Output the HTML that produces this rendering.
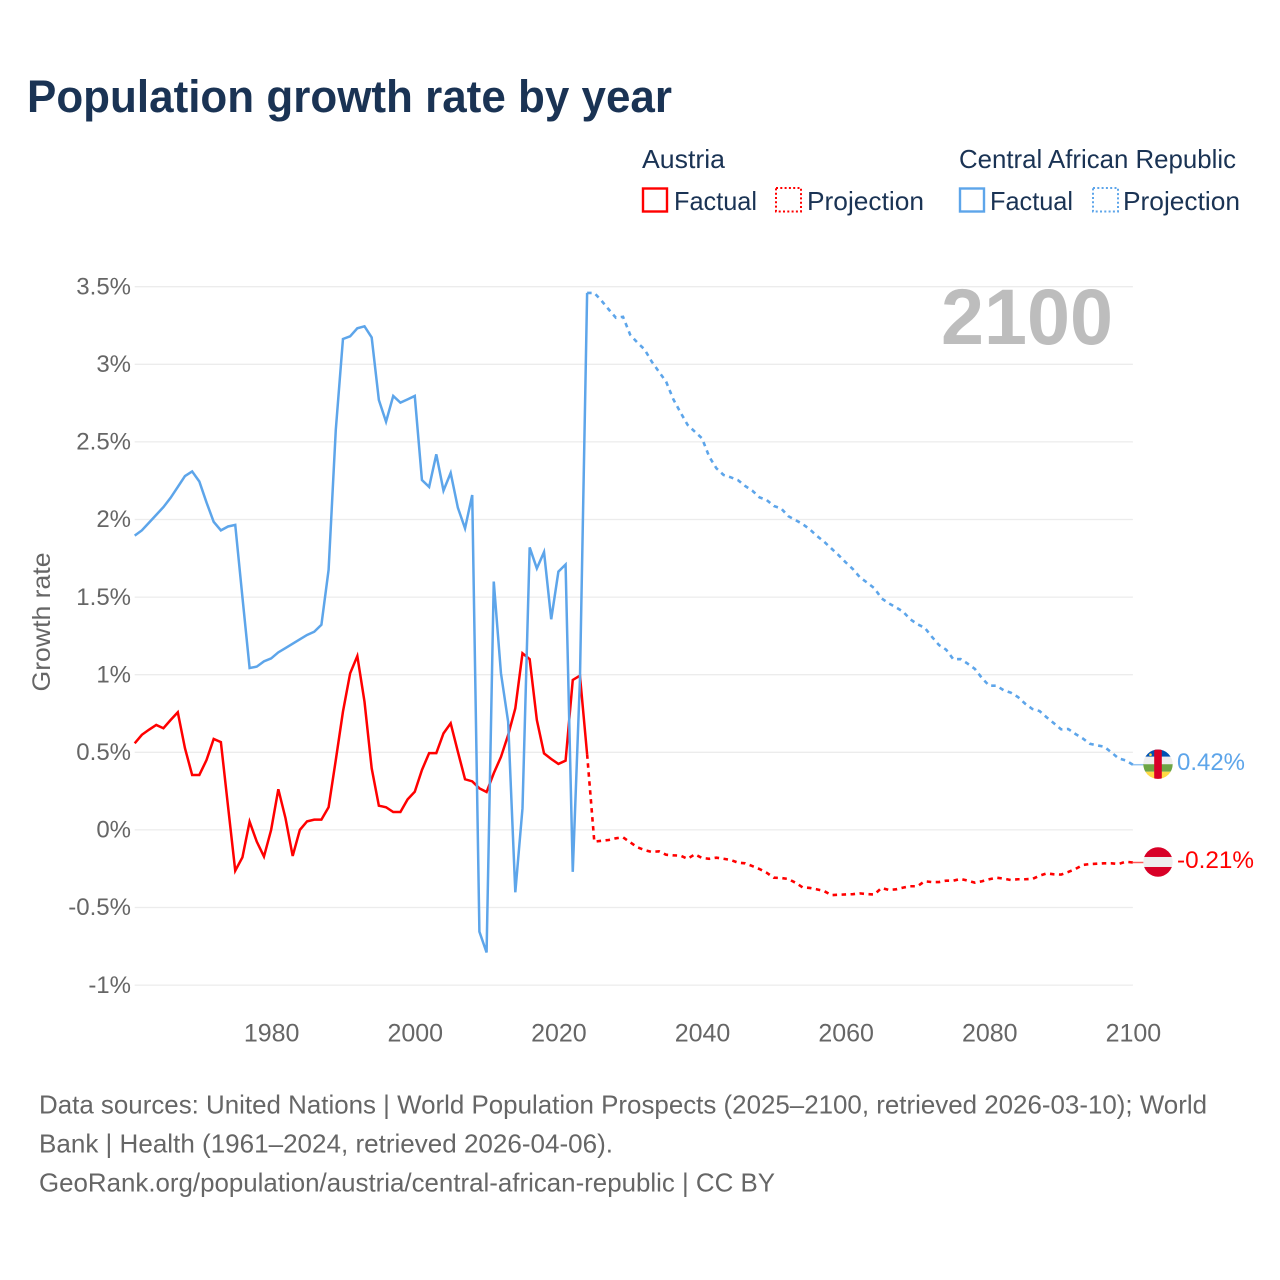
<!DOCTYPE html>
<html lang="en">
<head>
<meta charset="utf-8">
<title>Population growth rate by year</title>
<style>
html,body{margin:0;padding:0;background:#fff;width:1280px;height:1280px;overflow:hidden}
svg{display:block;font-family:"Liberation Sans",sans-serif}
.legend{font-size:26px;fill:#1a3354}
.foot{font-size:26px;fill:#666}
.tick{font-size:24px;fill:#666}
</style>
</head>
<body>
<svg id="chart" width="1280" height="1280" viewBox="0 0 1280 1280" xmlns="http://www.w3.org/2000/svg">
  <rect width="1280" height="1280" fill="#fff"/>
  <text x="27" y="112" font-size="45" font-weight="700" fill="#1a3354" textLength="645" lengthAdjust="spacingAndGlyphs">Population growth rate by year</text>

  <g>
    <text class="legend" x="642" y="168" textLength="83" lengthAdjust="spacingAndGlyphs">Austria</text>
    <text class="legend" x="959" y="168" textLength="277" lengthAdjust="spacingAndGlyphs">Central African Republic</text>
    <rect x="643" y="188.5" width="24" height="23" fill="none" stroke="#ff0000" stroke-width="2.4"/>
    <text class="legend" x="674" y="210" textLength="83" lengthAdjust="spacingAndGlyphs">Factual</text>
    <rect x="776" y="188" width="25" height="23.5" fill="none" stroke="#ff0000" stroke-width="2" stroke-dasharray="2 2.3"/>
    <text class="legend" x="807" y="210" textLength="117" lengthAdjust="spacingAndGlyphs">Projection</text>
    <rect x="960" y="188.5" width="24" height="23" fill="none" stroke="#5da5ea" stroke-width="2.4"/>
    <text class="legend" x="990" y="210" textLength="83" lengthAdjust="spacingAndGlyphs">Factual</text>
    <rect x="1093" y="188" width="25" height="23.5" fill="none" stroke="#5da5ea" stroke-width="2" stroke-dasharray="2 2.3"/>
    <text class="legend" x="1123" y="210" textLength="117" lengthAdjust="spacingAndGlyphs">Projection</text>
  </g>

  <g id="grid"></g>
  <g id="yticks"></g>
  <g id="xticks"></g>

  <text transform="translate(50,622) rotate(-90)" text-anchor="middle" font-size="25" fill="#666" textLength="139" lengthAdjust="spacingAndGlyphs">Growth rate</text>
  <text x="941" y="344" font-size="79" font-weight="700" fill="#bdbdbd" textLength="172" lengthAdjust="spacingAndGlyphs">2100</text>

  <g id="series"></g>
  <g id="markers"></g>

  <g>
    <text class="foot" x="39" y="1113.5" textLength="1168" lengthAdjust="spacingAndGlyphs">Data sources: United Nations | World Population Prospects (2025–2100, retrieved 2026-03-10); World</text>
    <text class="foot" x="39" y="1152.5" textLength="574" lengthAdjust="spacingAndGlyphs">Bank | Health (1961–2024, retrieved 2026-04-06).</text>
    <text class="foot" x="39" y="1191.5" textLength="736" lengthAdjust="spacingAndGlyphs">GeoRank.org/population/austria/central-african-republic | CC BY</text>
  </g>
</svg>

<script>
// ---- data ----
const firstYear = 1961;
const lastYear = 2100;
const yTickValues = [3.5, 3, 2.5, 2, 1.5, 1, 0.5, 0, -0.5, -1];
const xTickYears = [1980, 2000, 2020, 2040, 2060, 2080, 2100];

// Annual values 1961-2024
const austriaFactual = [
  0.558,0.613,0.646,0.676,0.655,0.708,0.758,0.526,0.354,0.354,
  0.45,0.586,0.566,0.15,-0.263,-0.177,0.053,-0.076,-0.172,0.0,
  0.262,0.075,-0.168,0.0,0.055,0.066,0.066,0.146,0.45,0.762,
  1.009,1.12,0.826,0.397,0.156,0.146,0.115,0.115,0.197,0.246,
  0.386,0.495,0.495,0.622,0.687,0.504,0.326,0.313,0.268,0.244,
  0.365,0.47,0.611,0.783,1.138,1.10,0.708,0.493,0.457,0.425,
  0.446,0.966,0.994,0.487
];
// Annual values 2025-2100
const austriaProjection = [
  -0.076,-0.07,-0.065,-0.054,-0.048,-0.08,-0.112,-0.13,-0.142,-0.138,
  -0.16,-0.164,-0.166,-0.186,-0.157,-0.181,-0.186,-0.179,-0.186,-0.194,
  -0.211,-0.215,-0.233,-0.252,-0.276,-0.308,-0.31,-0.316,-0.34,-0.37,
  -0.374,-0.383,-0.394,-0.42,-0.418,-0.416,-0.414,-0.409,-0.414,-0.416,
  -0.374,-0.387,-0.383,-0.372,-0.363,-0.363,-0.331,-0.336,-0.336,-0.327,
  -0.327,-0.316,-0.327,-0.34,-0.331,-0.318,-0.308,-0.314,-0.323,-0.318,
  -0.318,-0.316,-0.295,-0.28,-0.286,-0.288,-0.271,-0.252,-0.226,-0.22,
  -0.218,-0.215,-0.215,-0.22,-0.205,-0.21
];
// Annual values 1961-2024
const carFactual = [
  1.896,1.93,1.98,2.03,2.08,2.14,2.21,2.28,2.31,2.245,
  2.11,1.985,1.93,1.955,1.965,1.50,1.043,1.052,1.086,1.105,
  1.144,1.172,1.20,1.228,1.256,1.277,1.322,1.675,2.577,3.163,
  3.18,3.232,3.245,3.173,2.77,2.63,2.796,2.753,2.774,2.796,
  2.254,2.21,2.42,2.186,2.30,2.076,1.943,2.158,-0.656,-0.79,
  1.60,1.01,0.697,-0.402,0.139,1.82,1.685,1.79,1.357,1.664,
  1.71,-0.27,0.97,3.46
];
// Annual values 2025-2100
const carProjection = [
  3.46,3.41,3.354,3.30,3.306,3.19,3.14,3.096,3.017,2.952,
  2.888,2.775,2.69,2.609,2.566,2.523,2.405,2.33,2.287,2.272,
  2.254,2.216,2.186,2.143,2.126,2.087,2.072,2.022,1.997,1.971,
  1.937,1.894,1.857,1.814,1.771,1.724,1.681,1.627,1.593,1.557,
  1.492,1.46,1.434,1.406,1.357,1.325,1.303,1.245,1.191,1.161,
  1.099,1.101,1.071,1.037,0.977,0.929,0.929,0.90,0.884,0.856,
  0.813,0.779,0.766,0.725,0.687,0.648,0.65,0.618,0.59,0.555,
  0.545,0.536,0.50,0.461,0.448,0.42
];

// ---- axis functions ----
const plotLeft = 134.7, plotRight = 1132.9;
const yZero = 829.9, pxPerUnit = 155.2;
function xScale(year) {
  return plotLeft + (year - firstYear) * (plotRight - plotLeft) / (lastYear - firstYear);
}
function yScale(value) {
  return yZero - value * pxPerUnit;
}

const NS = 'http://www.w3.org/2000/svg';
function make(tag, attrs, parent) {
  const el = document.createElementNS(NS, tag);
  for (const key in attrs) el.setAttribute(key, attrs[key]);
  parent.appendChild(el);
  return el;
}
function fmtPercent(v) {
  return String(v) + '%';
}

// gridlines + y ticks
const gridGroup = document.getElementById('grid');
const yTickGroup = document.getElementById('yticks');
yTickValues.forEach(function (v) {
  const line = make('line', {x1: plotLeft, x2: plotRight, y1: yScale(v), y2: yScale(v), stroke: '#ececec', 'stroke-width': 1.3}, gridGroup);
  
  
  const label = make('text', {class: 'tick', x: 131, y: yScale(v) + 7.7, 'text-anchor': 'end'}, yTickGroup);
  
  
  label.textContent = fmtPercent(v);
});

// x ticks
const xTickGroup = document.getElementById('xticks');
xTickYears.forEach(function (yr) {
  const label = make('text', {class: 'tick', x: xScale(yr) + 0.5, y: 1041.5, 'text-anchor': 'middle', style: 'font-size:25px'}, xTickGroup);
  
  
  label.textContent = yr;
});

// series
function buildPoints(values, startYear) {
  return values.map(function (v, i) {
    return xScale(startYear + i).toFixed(2) + ',' + yScale(v).toFixed(2);
  });
}
const seriesGroup = document.getElementById('series');
const austriaColor = '#ff0000', carColor = '#5da5ea';

const austriaFactualPts = buildPoints(austriaFactual, firstYear);
const austriaFactualLine = make('polyline', {points: austriaFactualPts.join(' '), fill: 'none', stroke: austriaColor, 'stroke-width': 2.5, 'stroke-linejoin': 'miter'}, seriesGroup);



const austriaProjPts = [austriaFactualPts[austriaFactualPts.length - 1]].concat(buildPoints(austriaProjection, firstYear + austriaFactual.length));
const austriaProjLine = make('polyline', {points: austriaProjPts.join(' '), fill: 'none', stroke: austriaColor, 'stroke-width': 2.6, 'stroke-dasharray': '4.5 4.5'}, seriesGroup);



const carFactualPts = buildPoints(carFactual, firstYear);
const carFactualLine = make('polyline', {points: carFactualPts.join(' '), fill: 'none', stroke: carColor, 'stroke-width': 2.5, 'stroke-linejoin': 'miter'}, seriesGroup);



const carProjPts = [carFactualPts[carFactualPts.length - 1]].concat(buildPoints(carProjection, firstYear + carFactual.length));
const carProjLine = make('polyline', {points: carProjPts.join(' '), fill: 'none', stroke: carColor, 'stroke-width': 2.6, 'stroke-dasharray': '4.5 4.5'}, seriesGroup);



// end markers: connector, flag, value label
const markerGroup = document.getElementById('markers');
const defs = make('defs', {}, markerGroup);
const clip = make('clipPath', {id: 'flag-clip'}, defs);
make('circle', {cx: 0, cy: 0, r: 14.7}, clip);

function drawFlag(name, parent, yPos, drawStripes) {
  const group = make('g', {transform: 'translate(1158,' + yPos.toFixed(2) + ')'}, parent);
  
  
  const inner = make('g', {'clip-path': 'url(#flag-clip)'}, group);
  drawStripes(inner);
  return group;
}
function stripe(parent, x, y, w, h, fill) {
  return make('rect', {x: x, y: y, width: w, height: h, fill: fill}, parent);
}

const austriaEnd = austriaProjection[austriaProjection.length - 1];
const carEnd = carProjection[carProjection.length - 1];

const carConnector = make('line', {x1: plotRight, x2: 1144, y1: yScale(carEnd), y2: yScale(carEnd), stroke: carColor, 'stroke-width': 1.5, opacity: 0.65}, markerGroup);


const austriaConnector = make('line', {x1: plotRight, x2: 1144, y1: yScale(austriaEnd), y2: yScale(austriaEnd), stroke: austriaColor, 'stroke-width': 1.5, opacity: 0.65}, markerGroup);



drawFlag('car-flag', markerGroup, yScale(carEnd) - 0.5, function (g) {
  stripe(g, -15, -15, 30, 7.5, '#0052b4');
  stripe(g, -15, -7.5, 30, 7.5, '#eeeeee');
  stripe(g, -15, 0, 30, 7.5, '#6da544');
  stripe(g, -15, 7.5, 30, 8, '#ffda44');
  stripe(g, -3.8, -15, 7.6, 30, '#d80027');
  make('circle', {cx: -7.5, cy: -9.5, r: 1.3, fill: '#ffda44'}, g);
});
drawFlag('austria-flag', markerGroup, yScale(austriaEnd) - 0.5, function (g) {
  stripe(g, -15, -15, 30, 10, '#d80027');
  stripe(g, -15, -5, 30, 10, '#eeeeee');
  stripe(g, -15, 5, 30, 10, '#d80027');
});

const carLabel = make('text', {x: 1177, y: yScale(carEnd) + 5.5, 'font-size': 24.5, fill: carColor, textLength: 68, lengthAdjust: 'spacingAndGlyphs'}, markerGroup);


carLabel.textContent = carEnd.toFixed(2) + '%';

const austriaLabel = make('text', {x: 1177, y: yScale(austriaEnd) + 5.5, 'font-size': 24.5, fill: austriaColor, textLength: 77, lengthAdjust: 'spacingAndGlyphs'}, markerGroup);


austriaLabel.textContent = austriaEnd.toFixed(2) + '%';
</script>
</body>
</html>
